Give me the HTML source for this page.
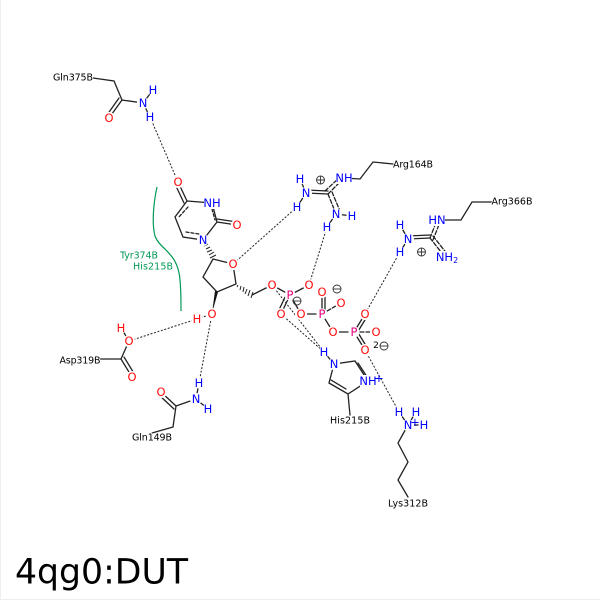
<!DOCTYPE html>
<html>
<head>
<meta charset="utf-8">
<style>
html,body{margin:0;padding:0;background:#fff}
svg{display:block}
text{font-family:"DejaVu Sans",sans-serif;text-anchor:middle;dominant-baseline:central}
.a text{font-size:11.500px}
.l text{font-size:9.500px;fill:#000;paint-order:stroke;stroke:#fff;stroke-width:1.5px}
.o{fill:#ff0d0d}.n{fill:#0000ff}.p{fill:#e6007e}
</style>
</head>
<body>
<svg width="600" height="600" viewBox="0 0 600 600" xmlns="http://www.w3.org/2000/svg">
<rect width="600" height="600" fill="#fff"/>
<path d="M.5 0V599.500H600" fill="none" stroke="#eee"/>

<!-- hydrogen bonds -->
<g stroke="#222" stroke-width="1" stroke-dasharray="2 1.6" fill="none">
<path d="M150 117L178 182"/>
<path d="M297 207L233 264"/>
<path d="M327 227L309 285"/>
<path d="M400 252L365 314"/>
<path d="M197 319L129 341"/>
<path d="M212 314L199 383"/>
<path d="M272 285L324 352"/>
<path d="M281 314L324 352"/>
<path d="M365 350L399 412"/>
<path d="M197 319L212 314"/>
</g>

<!-- bonds -->
<g stroke="#222" stroke-width="1.300" fill="none" stroke-linecap="round">
<path d="M93 78L114 81L122 100L143 103M143 103L153 90M143 103L150 117"/>
<path d="M122 100L109 118M119 98L107 115"/>
<path d="M178 182L187 201M175 184L184 203"/>
<path d="M187 201L212 203L217 222L203 240L183 237L175 217Z"/>
<path d="M188 207L178 218M186 232L199 234M212 209L215 220" stroke-dasharray="3 2"/>
<path d="M217 222L237 225M217 219L237 222"/>
<path d="M213 259L233 264L236 284L217 292L203 277L213 259"/>
<path d="M252 295L272 285"/>
<path d="M272 285L290 295L309 285M290 295L281 314M290 295L301 314M287 293L278 312"/>
<path d="M301 314L322 314L333 332L354 332M322 314L322 292M325 314L325 292"/>
<path d="M322 314L341 303" stroke-dasharray="4 2"/>
<path d="M354 332L365 314M357 333L368 315M354 332L365 350M357 331L368 349"/>
<path d="M354 332L376 332" stroke-dasharray="4 2"/>
<path d="M344 178L360 179L373 162L393 164"/>
<path d="M328 194L306 193M328 191L306 190"/>
<path d="M328 194L344 178M325 191L339 178" stroke-dasharray="4 2"/>
<path d="M328 194L336 214M332 192L340 211" stroke-dasharray="4 2"/>
<path d="M306 193L300 179M306 193L297 207M336 214L352 216M336 214L327 227"/>
<path d="M437 220L461 220L472 202L493 202"/>
<path d="M430 238L437 220M433 240L440 222" stroke-dasharray="4 2"/>
<path d="M430 238L408 239M430 235L408 236"/>
<path d="M430 238L445 257M433 236L448 255" stroke-dasharray="4 2"/>
<path d="M408 239L400 225M408 239L400 252"/>
<path d="M324 352L334 364L355 361L368 381L348 394L329 383L334 364"/>
<path d="M358 363L371 383M331 380L346 389"/>
<path d="M348 394L350 415"/>
<path d="M399 412L408 425M416 412L408 425M424 425L408 425M408 425L398 443L408 462L398 480L408 497"/>
<path d="M121 328L129 341L121 359L100 359M121 359L132 377M124 357L135 375"/>
<path d="M199 383L196 399L208 409M196 399L176 406L173 427L152 433M176 406L161 392M174 409L159 395"/>
</g>

<!-- stereo bonds -->
<path d="M212 313L218 292L215 291Z" fill="#111"/>
<g stroke="#222" stroke-width="1">
<path d="M203 243L205 241M204 246L208 244M206 249L210 247M207 252L212 250M209 255L214 252M210 258L216 255"/>
<path d="M238 285L237 287M241 286L240 290M244 287L243 292M247 289L245 294M250 290L248 296M253 292L251 298"/>
</g>

<!-- green arc -->
<path d="M157 187C153 205 152 225 155 236C160 250 178 252 180 280C181 290 181 300 181 311" fill="none" stroke="#009955" stroke-width="1.200"/>

<!-- white masks behind atom labels -->
<g fill="#fff">
<circle cx="109" cy="118" r="6"/><circle cx="143" cy="103" r="6"/><circle cx="153" cy="90" r="5.500"/><circle cx="150" cy="117" r="5.500"/>
<circle cx="178" cy="182" r="6"/><rect x="204" y="197" width="16" height="12"/><circle cx="237" cy="225" r="6"/><circle cx="203" cy="240" r="6"/>
<circle cx="233" cy="264" r="6"/><circle cx="212" cy="314" r="6"/><circle cx="197" cy="319" r="5.500"/>
<circle cx="272" cy="285" r="6"/><circle cx="309" cy="285" r="6"/><circle cx="290" cy="295" r="5.500"/><circle cx="281" cy="314" r="6"/><circle cx="301" cy="314" r="6"/>
<circle cx="322" cy="314" r="5.500"/><circle cx="322" cy="292" r="6"/><circle cx="341" cy="303" r="6"/><circle cx="333" cy="332" r="6"/>
<circle cx="354" cy="332" r="5.500"/><circle cx="376" cy="332" r="6"/><circle cx="365" cy="314" r="6"/><circle cx="365" cy="350" r="6"/>
<rect x="336" y="172" width="16" height="12"/><circle cx="306" cy="193" r="6"/><circle cx="300" cy="179" r="5.500"/><circle cx="297" cy="207" r="5.500"/>
<circle cx="336" cy="214" r="6"/><circle cx="352" cy="216" r="5.500"/><circle cx="327" cy="227" r="5.500"/>
<rect x="429" y="214" width="16" height="12"/><circle cx="408" cy="239" r="6"/><circle cx="400" cy="225" r="5.500"/><circle cx="400" cy="252" r="5.500"/>
<rect x="436" y="251" width="22" height="12"/>
<circle cx="324" cy="352" r="5.500"/><circle cx="334" cy="364" r="6"/><rect x="360" y="375" width="16" height="12"/>
<circle cx="399" cy="412" r="5.500"/><circle cx="416" cy="412" r="5.500"/><circle cx="408" cy="425" r="6"/><circle cx="424" cy="425" r="5.500"/>
<circle cx="121" cy="328" r="5.500"/><circle cx="129" cy="341" r="6"/><circle cx="132" cy="377" r="6"/>
<circle cx="199" cy="383" r="5.500"/><circle cx="196" cy="399" r="6"/><circle cx="208" cy="409" r="5.500"/><circle cx="161" cy="392" r="6"/>
</g>

<!-- atoms -->
<g class="a">
<text x="109" y="118" class="o">O</text>
<text x="143" y="103" class="n">N</text>
<text x="153" y="90" class="n">H</text>
<text x="150" y="117" class="n">H</text>
<text x="178" y="182" class="o">O</text>
<text x="212" y="203" class="n">NH</text>
<text x="237" y="225" class="o">O</text>
<text x="203" y="240" class="n">N</text>
<text x="233" y="264" class="o">O</text>
<text x="212" y="314" class="o">O</text>
<text x="197" y="319" class="o">H</text>
<text x="272" y="285" class="o">O</text>
<text x="309" y="285" class="o">O</text>
<text x="290" y="295" class="p">P</text>
<text x="281" y="314" class="o">O</text>
<text x="301" y="314" class="o">O</text>
<text x="322" y="314" class="p">P</text>
<text x="322" y="292" class="o">O</text>
<text x="341" y="303" class="o">O</text>
<text x="333" y="332" class="o">O</text>
<text x="354" y="332" class="p">P</text>
<text x="376" y="332" class="o">O</text>
<text x="365" y="314" class="o">O</text>
<text x="365" y="350" class="o">O</text>
<text x="344" y="178" class="n">NH</text>
<text x="306" y="193" class="n">N</text>
<text x="300" y="179" class="n">H</text>
<text x="297" y="207" class="n">H</text>
<text x="336" y="214" class="n">N</text>
<text x="352" y="216" class="n">H</text>
<text x="327" y="227" class="n">H</text>
<text x="437" y="220" class="n">HN</text>
<text x="408" y="239" class="n">N</text>
<text x="400" y="225" class="n">H</text>
<text x="400" y="252" class="n">H</text>
<text x="447" y="257" class="n">NH<tspan font-size="8" dy="3">2</tspan></text>
<text x="324" y="352" class="n">H</text>
<text x="334" y="364" class="n">N</text>
<text x="368" y="381" class="n">NH</text>
<text x="379" y="378" class="n">+</text>
<text x="399" y="412" class="n">H</text>
<text x="416" y="412" class="n">H</text>
<text x="408" y="425" class="n">N</text>
<text x="415" y="422" class="n">+</text>
<text x="424" y="425" class="n">H</text>
<text x="121" y="328" class="o">H</text>
<text x="129" y="341" class="o">O</text>
<text x="132" y="377" class="o">O</text>
<text x="199" y="383" class="n">H</text>
<text x="196" y="399" class="n">N</text>
<text x="208" y="409" class="n">H</text>
<text x="161" y="392" class="o">O</text>
</g>

<!-- charges -->
<g fill="none" stroke="#333" stroke-width="0.9">
<circle cx="320.500" cy="180" r="4"/><path d="M316.500 180H324.500M320.500 176V184"/>
<circle cx="421.500" cy="252" r="4"/><path d="M417.500 252H425.500M421.500 248V256"/>
<circle cx="337" cy="289" r="4"/><path d="M333 289H341"/>
<circle cx="297" cy="301" r="4"/><path d="M293 301H301"/>
<circle cx="384" cy="346" r="4"/><path d="M380 346H388"/>
</g>
<text x="376" y="346" font-size="9" fill="#000">2</text>

<!-- residue labels -->
<g class="l">
<text x="73" y="78" textLength="40">Gln375B</text>
<text x="413" y="165" textLength="40">Arg164B</text>
<text x="512" y="202" textLength="41">Arg366B</text>
<text x="350" y="421" textLength="40">His215B</text>
<text x="408" y="504" textLength="40">Lys312B</text>
<text x="80" y="361" textLength="41">Asp319B</text>
<text x="152" y="438" textLength="40">Gln149B</text>
</g>
<g fill="#009955">
<text x="139" y="256" font-size="9.500" textLength="38">Tyr374B</text>
<text x="153" y="267" font-size="9.500" textLength="40">His215B</text>
</g>

<text x="101.500" y="572.500" font-size="35" fill="#000" textLength="173" lengthAdjust="spacingAndGlyphs">4qg0:DUT</text>
</svg>
</body>
</html>
